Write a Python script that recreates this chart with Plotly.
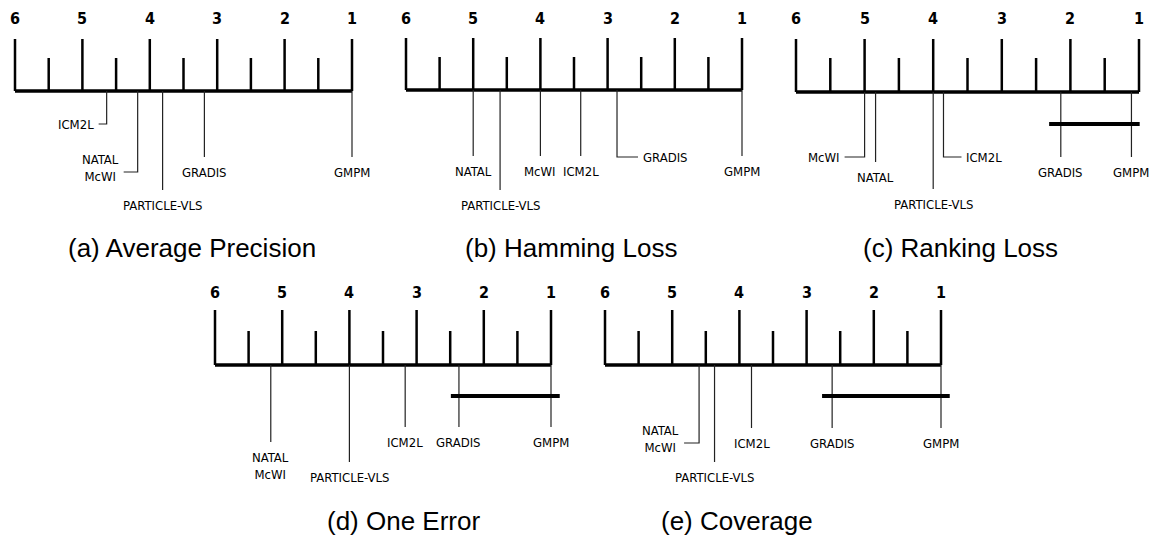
import plotly.graph_objects as go

# ---------------- data ----------------
methods = ["GMPM", "GRADIS", "PARTICLE-VLS", "ICM2L", "NATAL", "McWI"]
avg_precision = [1.00, 3.19, 3.81, 4.64, 4.18, 4.18]
hamming_loss = [1.00, 2.86, 4.60, 3.40, 5.00, 4.00]
ranking_loss = [1.11, 2.14, 4.00, 3.85, 4.84, 5.00]
one_error = [1.00, 2.37, 4.00, 3.17, 5.17, 5.17]
coverage = [1.00, 2.62, 4.37, 3.82, 4.60, 4.60]

cd_ranking_loss = [2.31, 0.99]
cd_one_error = [2.49, 0.87]
cd_coverage = [2.77, 0.87]

major_ticks = [6, 5, 4, 3, 2, 1]
minor_ticks = [5.5, 4.5, 3.5, 2.5, 1.5]
tick_labels = ["6", "5", "4", "3", "2", "1"]
captions = ["(a) Average Precision", "(b) Hamming Loss", "(c) Ranking Loss",
            "(d) One Error", "(e) Coverage"]

# ---------------- layout settings ----------------
W, H = 1150, 539
SPLIT = 270  # pixel row where the two rows of panels meet
NARROW = "Liberation Sans Narrow, DejaVu Sans Condensed, Arial Narrow, sans-serif"
LABEL_FONT = dict(family=NARROW, size=13, color="black")
TICK_FONT = dict(family=NARROW, size=16, color="black", weight="bold")
CAP_FONT = dict(family="Liberation Sans, Arial, Helvetica, sans-serif", size=26, color="black")

# label specs: (methods in group, style, drop px, hook px)
panels = [
    dict(ranks=avg_precision, cd=None, px6=15, px1=352, axis_y=91, major=52, minor=33, tick_y=18,
         cap=(192, 248), pl=0.2, pr=0.25, row=0,
         labels=[(["ICM2L"], "left", 33, 8), (["NATAL", "McWI"], "left", 81, 14),
                 (["PARTICLE-VLS"], "below", 99, 0), (["GRADIS"], "below", 66, 0),
                 (["GMPM"], "below", 66, 0)]),
    dict(ranks=hamming_loss, cd=None, px6=406, px1=742, axis_y=90, major=52, minor=33, tick_y=18,
         cap=(571, 248), pl=0.2, pr=0.25, row=0,
         labels=[(["NATAL"], "below", 66, 0), (["PARTICLE-VLS"], "below", 100, 0),
                 (["McWI"], "below", 66, 0), (["ICM2L"], "below", 66, 0),
                 (["GRADIS"], "right", 67, 21), (["GMPM"], "below", 66, 0)]),
    dict(ranks=ranking_loss, cd=cd_ranking_loss, px6=796, px1=1139, axis_y=92, major=53, minor=34,
         tick_y=18, cap=(960, 248), pl=0.2, pr=0.1, cd_y=124, row=0,
         labels=[(["McWI"], "left", 65, 20), (["NATAL"], "below", 70, 0),
                 (["PARTICLE-VLS"], "below", 97, 0), (["ICM2L"], "right", 65, 18),
                 (["GRADIS"], "below", 65, 0), (["GMPM"], "below", 65, 0)]),
    dict(ranks=one_error, cd=cd_one_error, px6=215, px1=551, axis_y=365, major=55, minor=34,
         tick_y=292, cap=(403, 521), pl=0.2, pr=0.25, cd_y=396, row=1,
         labels=[(["NATAL", "McWI"], "below", 77, 0), (["PARTICLE-VLS"], "below", 97, 0),
                 (["ICM2L"], "below", 62, 0), (["GRADIS"], "below", 62, 0),
                 (["GMPM"], "below", 62, 0)]),
    dict(ranks=coverage, cd=cd_coverage, px6=605, px1=941, axis_y=365, major=55, minor=34,
         tick_y=292, cap=(737, 521), pl=0.2, pr=0.25, cd_y=396, row=1,
         labels=[(["NATAL", "McWI"], "left", 78, 15), (["PARTICLE-VLS"], "below", 97, 0),
                 (["ICM2L"], "below", 63, 0), (["GRADIS"], "below", 63, 0),
                 (["GMPM"], "below", 63, 0)]),
]

fig = go.Figure()
annotations = []
layout_axes = {}

for i, p in enumerate(panels):
    k = "" if i == 0 else str(i + 1)
    xr, yr = "x" + k, "y" + k
    unit = (p["px1"] - p["px6"]) / 5.0
    lo, hi = 6 + p["pl"], 1 - p["pr"]
    d0 = (p["px6"] - p["pl"] * unit) / W
    d1 = (p["px1"] + p["pr"] * unit) / W
    if p["row"] == 0:
        yrange, ydom = [SPLIT, 0], [1 - SPLIT / H, 1]
    else:
        yrange, ydom = [H, SPLIT], [0, 1 - SPLIT / H]
    layout_axes["xaxis" + k] = dict(range=[lo, hi], domain=[d0, d1], visible=False,
                                    fixedrange=True, anchor=yr)
    layout_axes["yaxis" + k] = dict(range=yrange, domain=ydom, visible=False,
                                    fixedrange=True, anchor=xr)
    ay = p["axis_y"]

    # axis line
    fig.add_trace(go.Scatter(x=[major_ticks[0], major_ticks[-1]], y=[ay, ay], mode="lines",
                             line=dict(color="black", width=3.5), xaxis=xr, yaxis=yr,
                             hoverinfo="skip", showlegend=False))
    # major ticks
    xs, ys = [], []
    for t in major_ticks:
        xs += [t, t, None]
        ys += [ay, ay - p["major"], None]
    fig.add_trace(go.Scatter(x=xs, y=ys, mode="lines", line=dict(color="black", width=2.5),
                             xaxis=xr, yaxis=yr, hoverinfo="skip", showlegend=False))
    # minor ticks
    xs, ys = [], []
    for t in minor_ticks:
        xs += [t, t, None]
        ys += [ay, ay - p["minor"], None]
    fig.add_trace(go.Scatter(x=xs, y=ys, mode="lines", line=dict(color="black", width=2.5),
                             xaxis=xr, yaxis=yr, hoverinfo="skip", showlegend=False))
    for t, lab in zip(major_ticks, tick_labels):
        annotations.append(dict(x=t, y=p["tick_y"], xref=xr, yref=yr, text=lab, showarrow=False,
                                font=TICK_FONT, xanchor="center", yanchor="middle"))

    # method lines and labels
    xs, ys = [], []
    for group, style, drop, hook in p["labels"]:
        r = p["ranks"][methods.index(group[0])]
        yend = ay + drop
        text = "<br>".join(group)
        if style == "below":
            xs += [r, r, None]
            ys += [ay, yend, None]
            annotations.append(dict(x=r, y=yend + 6, xref=xr, yref=yr, text=text, showarrow=False,
                                    font=LABEL_FONT, xanchor="center", yanchor="top",
                                    align="center"))
        else:
            sgn = -1 if style == "left" else 1
            # rank axis is reversed: moving right on screen lowers rank
            xh = r + (-sgn) * hook / unit
            xs += [r, r, xh, None]
            ys += [ay, yend, yend, None]
            annotations.append(dict(x=xh, y=yend - (4 if len(group) > 1 else 0), xref=xr, yref=yr,
                                    text=text, showarrow=False, font=LABEL_FONT,
                                    xanchor="right" if style == "left" else "left",
                                    xshift=-3 if style == "left" else 3,
                                    yanchor="middle", align="center"))
    fig.add_trace(go.Scatter(x=xs, y=ys, mode="lines", line=dict(color="#222", width=1.2),
                             xaxis=xr, yaxis=yr, hoverinfo="skip", showlegend=False))

    # critical-difference bar
    if p["cd"] is not None:
        fig.add_trace(go.Scatter(x=p["cd"], y=[p["cd_y"], p["cd_y"]], mode="lines",
                                 line=dict(color="black", width=4), xaxis=xr, yaxis=yr,
                                 hoverinfo="skip", showlegend=False))

    # caption (placed in the panel's own pixel-based y coordinates)
    annotations.append(dict(x=p["cap"][0] / W, y=p["cap"][1], xref="paper", yref=yr,
                            text=captions[i], showarrow=False, font=CAP_FONT,
                            xanchor="center", yanchor="middle"))

fig.update_layout(width=W, height=H, margin=dict(l=0, r=0, t=0, b=0),
                  paper_bgcolor="white", plot_bgcolor="rgba(0,0,0,0)",
                  annotations=annotations, **layout_axes)

fig.write_html("out.html", config={"displayModeBar": False},
               post_script="document.body.style.margin='0';document.body.style.overflow='hidden';")
